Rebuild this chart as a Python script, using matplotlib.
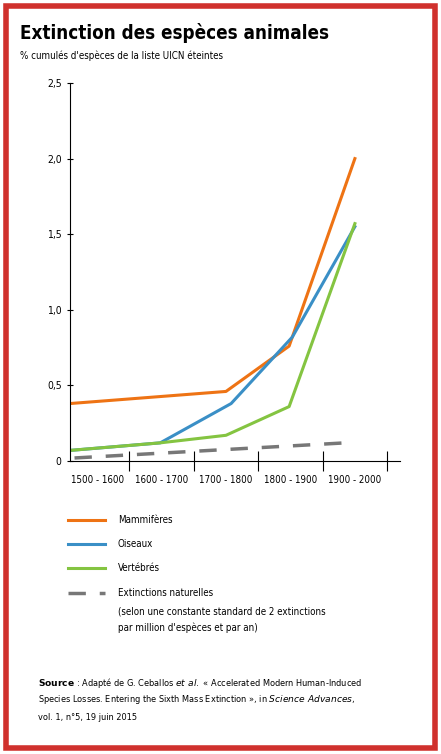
import matplotlib
matplotlib.use("Agg")
import matplotlib.pyplot as plt
from matplotlib.patches import Rectangle
from matplotlib.lines import Line2D

categories = ["1500 - 1600", "1600 - 1700", "1700 - 1800", "1800 - 1900", "1900 - 2000"]
mam_x = [-0.42, 2.0, 2.98, 4.0]
mam_y = [0.38, 0.46, 0.76, 2.0]
ois_x = [-0.42, 0.98, 2.08, 3.03, 4.0]
ois_y = [0.07, 0.12, 0.38, 0.82, 1.55]
ver_x = [-0.42, 0.98, 2.0, 2.98, 4.0]
ver_y = [0.07, 0.12, 0.17, 0.36, 1.57]
nat_x = [-0.35, 3.85]
nat_y = [0.02, 0.12]
yticks = [0, 0.5, 1.0, 1.5, 2.0, 2.5]
ylabels = ["0", "0,5", "1,0", "1,5", "2,0", "2,5"]

W, H = 441, 754
fig = plt.figure(figsize=(W/100, H/100), dpi=100)
fig.patches.append(Rectangle((6/W, 6/H), 1-12/W, 1-12/H, transform=fig.transFigure,
                             fill=False, edgecolor="#d0312d", linewidth=4))
fam = ["DejaVu Sans"]
st = "condensed"
fig.text(20/W, 1-33/H, "Extinction des espèces animales", fontsize=13.5, fontweight="bold",
         family=fam, stretch=st, va="center")
fig.text(20/W, 1-56/H, "% cumulés d'espèces de la liste UICN éteintes", fontsize=7, family=fam, stretch=st, va="center")

ax = fig.add_axes([70/W, 1-461/H, 330/W, 378/H])
ax.set_xlim(-0.42, 4.7)
ax.set_ylim(0, 2.5)
c_m, c_o, c_v = "#ee7314", "#3a8fc6", "#84c441"
ax.plot(mam_x, mam_y, color=c_m, lw=2.2)
ax.plot(ois_x, ois_y, color=c_o, lw=2.2)
ax.plot(ver_x, ver_y, color=c_v, lw=2.2)
ax.plot(nat_x, nat_y, color="#777777", lw=2.5, dashes=(5, 4))
for s in ["top", "right"]:
    ax.spines[s].set_visible(False)
ax.set_yticks(yticks)
ax.set_yticklabels(ylabels, family=fam, stretch=st, fontsize=7.5)
ax.set_xticks([0.5, 1.5, 2.5, 3.5, 4.5])
ax.set_xticklabels([])
ax.set_xticks(range(5), minor=True)
ax.set_xticklabels(categories, minor=True, family=fam, stretch=st, fontsize=7)
ax.tick_params(axis="x", which="minor", length=0, pad=10)
ax.tick_params(axis="x", which="major", length=14, direction="inout")
ax.tick_params(axis="y", length=5, direction="inout")

def leg(y, color, text, dashed=False):
    yy = 1 - y/H
    fig.add_artist(Line2D([68/W, 105/W], [yy, yy], color=color, lw=2.5 if dashed else 2.2,
                          dashes=(5, 4) if dashed else (None, None), transform=fig.transFigure))
    fig.text(118/W, yy, text, fontsize=7, family=fam, stretch=st, va="center")

leg(520, c_m, "Mammifères")
leg(544, c_o, "Oiseaux")
leg(568, c_v, "Vertébrés")
leg(593, "#777777", "Extinctions naturelles", dashed=True)
fig.text(118/W, 1-611/H, "(selon une constante standard de 2 extinctions", fontsize=7, family=fam, stretch=st, va="center")
fig.text(118/W, 1-628/H, "par million d'espèces et par an)", fontsize=7, family=fam, stretch=st, va="center")

fig.text(38/W, 1-683/H, r"$\bf{Source}$ : Adapté de G. Ceballos $\it{et\ al.}$ « Accelerated Modern Human-Induced",
         fontsize=6.6, family=fam, stretch=st, va="center")
fig.text(38/W, 1-700/H, r"Species Losses. Entering the Sixth Mass Extinction », in $\it{Science\ Advances}$,",
         fontsize=6.6, family=fam, stretch=st, va="center")
fig.text(38/W, 1-717/H, "vol. 1, n°5, 19 juin 2015", fontsize=6.6, family=fam, stretch=st, va="center")
fig.savefig("out.png", dpi=100)
